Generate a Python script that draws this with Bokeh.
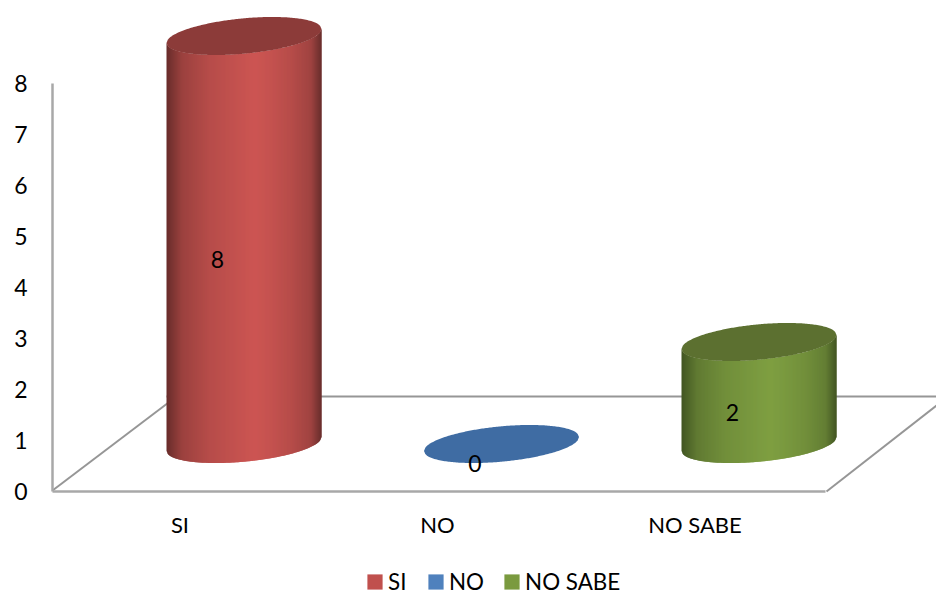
import numpy as np
from bokeh.core.properties import value
from bokeh.embed import file_html
from bokeh.models import ColumnDataSource, FixedTicker, Legend, LegendItem, LinearAxis, Range1d
from bokeh.plotting import figure
from bokeh.resources import INLINE

categories = ["SI", "NO", "NO SABE"]
counts = [8, 0, 2]
y_ticks = [0, 1, 2, 3, 4, 5, 6, 7, 8]
front_colors = ["#c0504d", "#4f81bd", "#7a9a3f"]
side_light = ["#cd5653", "#4f81bd", "#7f9f42"]
side_dark = ["#692d2b", "#2c4a70", "#435623"]
cap_colors = ["#8c3b39", "#3f6ca3", "#5c7030"]

FONT = "Lato"
WIDTH, HEIGHT = 936, 594
PX_X = 257.5           # pixels per category
PX_Y = 51.0            # pixels per count
ORIGIN_X, ORIGIN_Y = 179.5, 490.5


def xd(px):
    return (px - ORIGIN_X) / PX_X


def yd(px):
    return (ORIGIN_Y - px) / PX_Y


p = figure(
    width=WIDTH, height=HEIGHT, output_backend="svg", toolbar_location=None,
    x_range=Range1d(xd(0), xd(WIDTH)), y_range=Range1d(yd(HEIGHT), yd(0)),
    x_axis_type=None, y_axis_type=None, min_border=0,
    outline_line_color=None, background_fill_color="white",
)
p.grid.visible = False

AXIS_COLOR = "#a8a8a8"
FLOOR_COLOR = "#969696"

# y axis and the front floor edge
y_axis = LinearAxis(
    fixed_location=xd(52), bounds=(0, 8), ticker=FixedTicker(ticks=y_ticks),
    axis_line_color=AXIS_COLOR, axis_line_width=2.5,
    major_tick_line_color=None, minor_tick_line_color=None,
    major_label_standoff=19, major_label_text_font=FONT,
    major_label_text_font_size="23px", major_label_text_color="#000000",
)
p.add_layout(y_axis, "left")

x_axis = LinearAxis(
    fixed_location=0, bounds=(xd(52), xd(825)), ticker=FixedTicker(ticks=[0, 1, 2]),
    major_label_overrides={i: c for i, c in enumerate(categories)},
    axis_line_color=AXIS_COLOR, axis_line_width=2.5,
    major_tick_line_color=None, minor_tick_line_color=None,
    major_label_standoff=14, major_label_text_font=FONT,
    major_label_text_font_size="22px", major_label_text_color="#000000",
)
p.add_layout(x_axis, "below")

# remaining floor edges, behind the cylinders
p.segment(
    x0=[xd(52), xd(166), xd(826)], y0=[yd(490), yd(396), yd(491)],
    x1=[xd(176), xd(936), xd(936)], y1=[yd(396), yd(396), yd(405)],
    line_color=FLOOR_COLOR, line_width=2,
)

# Cylinder shape, in pixels relative to its axis
HALF_W = 77.5
HALF_H = 17.7
SLOPE = 0.0902
DEPTH_X = 64 / PX_X
BASE_Y = (ORIGIN_Y - 443.5) / PX_Y


def rim(dx):
    """Lower rim of the tilted ellipse at pixel offset dx, in count units."""
    t = np.clip(dx / HALF_W, -1, 1)
    return (SLOPE * dx - HALF_H * np.sqrt(1 - t * t)) / PX_Y


def shade(frac, light, dark):
    """Horizontal cylinder shading, brightest a little right of the middle."""
    stops = [0.0, 0.1, 0.28, 0.48, 0.57, 0.66, 0.8, 0.93, 1.0]
    mix = [0.0, 0.5, 0.78, 0.93, 1.0, 0.93, 0.78, 0.55, 0.0]
    m = np.interp(frac, stops, mix)
    c0 = np.array([int(dark[i:i + 2], 16) for i in (1, 3, 5)])
    c1 = np.array([int(light[i:i + 2], 16) for i in (1, 3, 5)])
    r, g, b = (c0 + (c1 - c0) * m).astype(int)
    return f"#{r:02x}{g:02x}{b:02x}"


for i, v in enumerate(counts):
    cx = i + DEPTH_X
    if v > 0:
        xs, ys, colors = [], [], []
        for dx in np.arange(-HALF_W, HALF_W, 1.0):
            right = min(dx + 2.0, HALF_W)
            xs.append([cx + dx / PX_X, cx + right / PX_X, cx + right / PX_X, cx + dx / PX_X])
            ys.append([
                BASE_Y + rim(dx), BASE_Y + rim(right),
                BASE_Y + v + rim(right), BASE_Y + v + rim(dx),
            ])
            colors.append(shade((dx + 0.5 + HALF_W) / (2 * HALF_W), side_light[i], side_dark[i]))
        p.patches(xs=xs, ys=ys, fill_color=colors, line_color=None)

    # top cap
    d = np.linspace(-HALF_W, HALF_W, 121)
    lower = BASE_Y + v + rim(d)
    upper = BASE_Y + v + (2 * SLOPE * d) / PX_Y - rim(d)
    p.patch(
        x=np.concatenate([cx + d / PX_X, (cx + d / PX_X)[::-1]]),
        y=np.concatenate([lower, upper[::-1]]),
        fill_color=cap_colors[i], line_color=None,
    )

# value labels, half way up each cylinder
labels = ColumnDataSource(data=dict(
    x=[i + DEPTH_X - 26.5 / PX_X for i in range(len(counts))],
    y=[yd(463) + v / 2 for v in counts],
    text=[str(v) for v in counts],
))
p.text(
    x="x", y="y", text="text", source=labels, text_align="center",
    text_baseline="middle", text_font=value(FONT), text_font_size="23px",
    text_color="#000000",
)

# legend swatches take their colour from placeholder quads that sit outside the view
swatches = [
    p.quad(left=[-50], right=[-49], top=[-50], bottom=[-51], fill_color=c, line_color=None)
    for c in front_colors
]
legend = Legend(
    items=[LegendItem(label=value(c), renderers=[r]) for c, r in zip(categories, swatches)],
    orientation="horizontal", location=(365, -1), glyph_width=19, glyph_height=19,
    label_standoff=4, spacing=18, margin=0, padding=0, border_line_color=None,
    background_fill_alpha=0, label_text_font=FONT, label_text_font_size="22.4px",
    label_text_color="#000000",
)
p.add_layout(legend)

open("out.html", "w").write(file_html(p, INLINE))
